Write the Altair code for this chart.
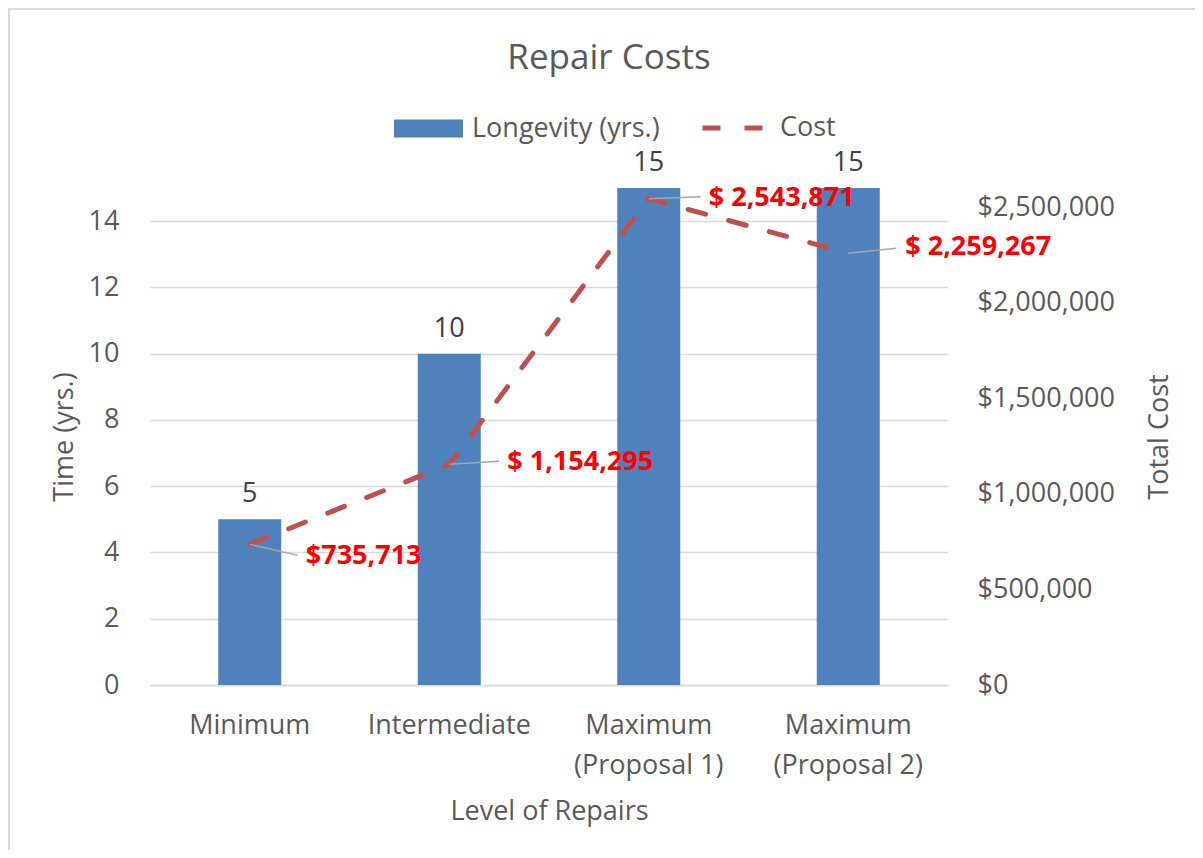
import altair as alt
import pandas as pd

categories = ["Minimum", "Intermediate", "Maximum\n(Proposal 1)", "Maximum\n(Proposal 2)"]
longevity = [5, 10, 15, 15]
cost = [735713, 1154295, 2543871, 2259267]
cost_labels = ["$735,713", "$ 1,154,295", "$ 2,543,871", "$ 2,259,267"]
left_ticks = [0, 2, 4, 6, 8, 10, 12, 14]
right_ticks = [0, 500000, 1000000, 1500000, 2000000, 2500000]

# label placement (style, pixels): leader end offset and label offset from the point
label_offsets = [(48, 11, 56, 12), (50, -3, 58, -2), (52, -2, 60, -1), (48, -5, 57, -6)]

df = pd.DataFrame({
    "level": categories,
    "longevity": longevity,
    "cost": cost,
    "cost_label": cost_labels,
    "bar_series": ["Longevity (yrs.)"] * 4,
    "line_series": ["Cost"] * 4,
})

FONT = "Open Sans"
GREY = "#595959"
FS = 27

base = alt.Chart(df)
xenc = alt.X(
    "level:N", sort=categories,
    scale=alt.Scale(paddingInner=0, paddingOuter=0),
    axis=alt.Axis(
        title="Level of Repairs", labelExpr="split(datum.label, '\\n')",
        labelAngle=0, labelFontSize=FS, labelColor=GREY, labelLineHeight=40,
        labelPadding=27, titleFontSize=FS, titleColor=GREY, titleFontWeight="normal",
        titlePadding=20, ticks=False, domainColor="#D9D9D9", domainWidth=1.5,
    ),
)

left_axis = alt.Axis(
    values=left_ticks, title="Time (yrs.)", labelFontSize=FS, labelColor=GREY,
    titleFontSize=FS, titleColor=GREY, titleFontWeight="normal", domain=False,
    ticks=False, grid=True, gridColor="#D9D9D9", gridWidth=1.5, labelPadding=31,
    titlePadding=10,
)
right_axis = alt.Axis(
    values=right_ticks, format="$,.0f", title="Total Cost", orient="right",
    labelFontSize=FS, labelColor=GREY, titleFontSize=FS, titleColor=GREY,
    titleFontWeight="normal", domain=False, ticks=False, grid=False,
    labelPadding=29, titlePadding=59, titleAngle=270,
)

bars = base.mark_bar(size=63).encode(
    x=xenc,
    y=alt.Y("longevity:Q", scale=alt.Scale(domain=[0, 15], nice=False), axis=left_axis),
    color=alt.Color(
        "bar_series:N", scale=alt.Scale(range=["#4F81BD"]),
        legend=alt.Legend(
            title=None, orient="none", legendX=243, legendY=-95,
            symbolType="M-1,-0.26H1V0.26H-1Z", symbolSize=4761,
            labelFontSize=FS, labelColor=GREY, labelOffset=8, labelFont=FONT,
            labelLimit=400,
        ),
    ),
)
bar_text = base.mark_text(baseline="bottom", dy=-11, fontSize=FS, color="#404040").encode(
    x=alt.X("level:N", sort=categories),
    y=alt.Y("longevity:Q"),
    text="longevity:Q",
)
left = alt.layer(bars, bar_text)

line = base.mark_line(color="#C0504D", strokeWidth=5, strokeCap="round").encode(
    x=alt.X("level:N", sort=categories),
    y=alt.Y("cost:Q", scale=alt.Scale(domain=[0, 2600000], nice=False), axis=right_axis),
    strokeDash=alt.StrokeDash(
        "line_series:N", scale=alt.Scale(range=[[18, 24]]),
        legend=alt.Legend(
            title=None, orient="none", legendX=550, legendY=-95,
            symbolType="M-1,0H1", symbolSize=4225, symbolStrokeColor="#C0504D",
            symbolStrokeWidth=5, labelFontSize=FS, labelColor=GREY, labelOffset=10,
            labelFont=FONT, labelLimit=400,
        ),
    ),
)

right_layers = [line]
for i, cat in enumerate(categories):
    lx, ly, tx, ty = label_offsets[i]
    sub = base.transform_filter(alt.FieldEqualPredicate(field="level", equal=cat))
    right_layers.append(
        sub.mark_rule(color="#A6A6A6", strokeWidth=1.5, x2Offset=lx, y2Offset=ly).encode(
            x=alt.X("level:N", sort=categories, bandPosition=0.5),
            x2=alt.X2("level:N", bandPosition=0.5),
            y=alt.Y("cost:Q"),
            y2="cost:Q",
        )
    )
    right_layers.append(
        sub.mark_text(align="left", baseline="middle", dx=tx, dy=ty, fontSize=FS,
                      fontWeight="bold", color="#FF0000").encode(
            x=alt.X("level:N", sort=categories),
            y=alt.Y("cost:Q"),
            text="cost_label:N",
        )
    )
right = alt.layer(*right_layers)

# light grey frame around the whole chart area (decoration)
frame = alt.Chart(pd.DataFrame({"f": [0]})).mark_rect(
    fill=None, stroke="#D9D9D9", strokeWidth=2
).encode(x=alt.value(-141), x2=alt.value(1080), y=alt.value(-179), y2=alt.value(700))

chart = alt.layer(frame, left, right).resolve_scale(y="independent").properties(
    width=798, height=497, autosize="none",
    padding={"left": 142, "top": 180, "right": 247, "bottom": 165},
    title=alt.TitleParams("Repair Costs", fontSize=35, color=GREY, fontWeight="normal",
                          anchor="middle", dx=60, offset=-68, font=FONT),
).configure(font=FONT).configure_view(stroke=None)

chart.save("out.html", embed_options={"renderer": "svg", "actions": False})
